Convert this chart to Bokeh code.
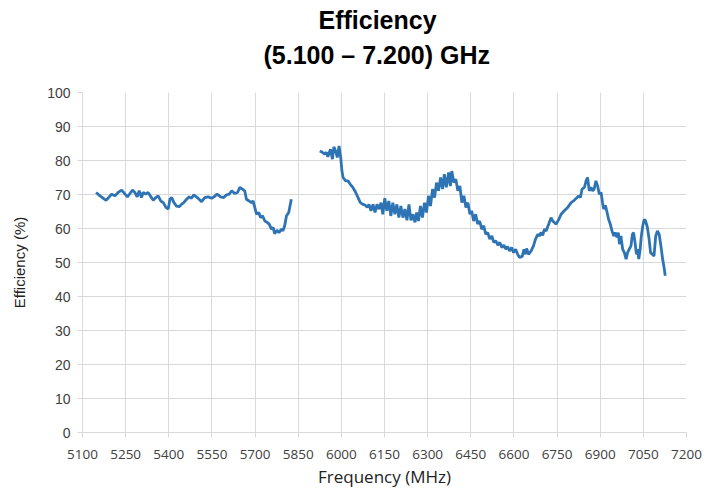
import math
from bokeh.plotting import figure
from bokeh.models import Title, Range1d, FixedTicker
from bokeh.embed import file_html
from bokeh.resources import INLINE

NAN = float("nan")

# Frequency (MHz) and efficiency (%)
freq_band1 = [5147, 5161, 5182, 5193, 5201, 5213, 5224, 5236, 5248, 5256, 5265, 5274, 5282, 5290,
              5297, 5305, 5311, 5320, 5328, 5338, 5346, 5355, 5363, 5372, 5381, 5390, 5398, 5404,
              5410, 5418, 5427, 5436, 5444, 5452, 5462, 5471, 5479, 5487, 5491, 5502, 5514, 5525,
              5537, 5549, 5557, 5568, 5580, 5591, 5601, 5610, 5619, 5629, 5639, 5647, 5656, 5664,
              5670, 5679, 5687, 5693, 5699, 5705, 5713, 5719, 5726, 5734, 5742, 5749, 5757, 5763,
              5768, 5776, 5783, 5792, 5797, 5803, 5809, 5817, 5826]
eff_band1 = [70.6, 69.6, 68.3, 69.3, 70.1, 69.6, 70.6, 71.3, 70.1, 69.3, 70.3, 71.3, 70.6, 69.3,
             71.1, 69.1, 70.6, 70.1, 70.6, 69.3, 68.3, 69.1, 69.6, 68.1, 67.6, 66.2, 65.7, 68.6,
             69.1, 67.6, 66.6, 66.4, 67.1, 67.6, 68.6, 69.3, 68.9, 69.9, 69.6, 68.9, 67.9, 69.1,
             69.3, 68.9, 69.3, 70.1, 69.3, 69.1, 69.9, 70.1, 71.1, 70.3, 70.6, 72.1, 71.6, 71.1,
             68.6, 68.1, 67.6, 68.1, 66.2, 64.2, 64.7, 63.2, 63.7, 62.2, 61.8, 61.3, 59.8, 60.3,
             58.5, 59.5, 58.8, 59.8, 59.3, 60.8, 63.7, 64.7, 68.6]

freq_band2 = [5925, 5934, 5942, 5948, 5953, 5962, 5969, 5974, 5980, 5986, 5992, 5998, 6002, 6006,
              6015, 6023, 6031, 6040, 6050, 6058, 6066, 6075, 6083, 6090, 6096, 6103, 6110, 6117,
              6124, 6131, 6138, 6144, 6151, 6158, 6165, 6172, 6179, 6186, 6193, 6200, 6207, 6214,
              6221, 6228, 6235, 6242, 6249, 6256, 6262, 6268, 6275, 6282, 6289, 6296, 6303, 6310,
              6317, 6324, 6331, 6338, 6345, 6352, 6358, 6365, 6373, 6379, 6384, 6391, 6398, 6405,
              6412, 6419, 6426, 6433, 6440, 6447, 6453, 6460, 6467, 6474, 6481, 6488, 6495, 6502,
              6509, 6516, 6523, 6530, 6537, 6544, 6551, 6558, 6565, 6572, 6578, 6585, 6592, 6599,
              6606, 6613, 6619, 6629, 6635, 6640, 6644, 6651, 6660, 6668, 6675, 6683, 6689, 6694,
              6700, 6706, 6712, 6721, 6729, 6735, 6747, 6756, 6764, 6775, 6787, 6799, 6807, 6816,
              6825, 6831, 6837, 6845, 6851, 6856, 6862, 6868, 6874, 6879, 6885, 6891, 6897, 6903,
              6908, 6912, 6918, 6924, 6929, 6935, 6941, 6947, 6952, 6958, 6963, 6967, 6972, 6978,
              6984, 6990, 6995, 7001, 7007, 7012, 7016, 7021, 7026, 7030, 7034, 7039, 7043, 7048,
              7053, 7058, 7064, 7070, 7075, 7081, 7087, 7093, 7099, 7105, 7111, 7117, 7123, 7126]
eff_band2 = [82.8, 82.4, 81.9, 82.4, 81.1, 83.3, 80.4, 84.0, 82.8, 80.9, 84.3, 80.7, 76.9, 75.0,
             74.0, 74.0, 73.0, 72.1, 70.6, 69.1, 67.6, 67.1, 66.9, 66.2, 67.1, 65.2, 67.1, 64.7,
             67.1, 65.7, 67.6, 64.2, 68.9, 65.2, 68.1, 63.7, 67.6, 64.2, 67.1, 63.2, 66.6, 63.2,
             65.7, 62.4, 67.1, 62.4, 64.2, 61.8, 64.7, 62.2, 66.6, 63.2, 67.6, 64.7, 69.6, 66.6,
             71.6, 69.1, 73.5, 71.1, 75.0, 71.6, 76.0, 72.1, 76.5, 72.5, 76.9, 73.5, 74.5, 71.1,
             72.5, 67.6, 69.6, 66.2, 67.6, 64.2, 65.2, 62.2, 64.2, 61.3, 62.2, 59.8, 60.8, 58.3,
             58.8, 56.9, 57.8, 55.9, 56.4, 55.1, 55.9, 54.4, 55.1, 53.9, 54.7, 53.4, 54.4, 52.9,
             53.9, 52.4, 51.5, 51.8, 53.9, 52.4, 54.1, 52.4, 53.4, 54.9, 56.9, 58.3, 57.8, 58.8,
             58.0, 59.8, 59.3, 61.3, 63.2, 62.2, 61.3, 62.7, 64.2, 65.2, 66.2, 67.6, 68.1, 68.8,
             69.6, 69.1, 71.6, 72.1, 74.0, 75.0, 71.1, 72.1, 71.1, 71.6, 74.0, 72.5, 70.1, 70.6,
             67.6, 65.7, 66.8, 64.7, 62.7, 61.3, 59.3, 57.8, 58.8, 57.4, 58.8, 55.4, 57.8, 53.9,
             52.9, 51.0, 52.9, 53.9, 54.9, 58.3, 58.8, 55.9, 52.4, 53.9, 51.0, 53.9, 57.8, 60.8,
             62.7, 62.2, 60.3, 56.9, 52.9, 52.4, 51.9, 57.8, 59.3, 58.3, 54.9, 51.0, 48.0, 46.1]

x_ticks = list(range(5100, 7201, 150))
y_ticks = list(range(0, 101, 10))
title_line1 = "Efficiency"
title_line2 = "(5.100 – 7.200) GHz"

freq = freq_band1 + [NAN] + freq_band2
eff = eff_band1 + [NAN] + eff_band2

GRID = "#d9d9d9"
TXT = "#404040"

p = figure(frame_width=604, frame_height=340, output_backend="svg", toolbar_location=None,
           x_range=Range1d(5100, 7200), y_range=Range1d(0, 100),
           min_border_left=82, min_border_right=20, min_border_top=92, min_border_bottom=40,
           title=None)

# spacer between frame and the title lines
p.add_layout(Title(text=" ", text_font_size="1px", standoff=19), "above")
p.add_layout(Title(text=title_line2, align="left", offset=181, text_font="Liberation Sans",
                   text_font_size="25px", text_font_style="bold", text_color="#000000",
                   standoff=4), "above")
p.add_layout(Title(text=title_line1, align="left", offset=236, text_font="Liberation Sans",
                   text_font_size="25px", text_font_style="bold", text_color="#000000",
                   standoff=6), "above")

p.line(freq, eff, line_color="#2e74b5", line_width=2.8)

p.outline_line_color = None
p.xaxis.ticker = FixedTicker(ticks=x_ticks)
p.yaxis.ticker = FixedTicker(ticks=y_ticks)
p.xgrid.ticker = FixedTicker(ticks=x_ticks)
p.ygrid.ticker = FixedTicker(ticks=y_ticks)
p.grid.grid_line_color = GRID
p.grid.grid_line_width = 1

for ax in (p.xaxis, p.yaxis):
    ax.axis_line_color = GRID
    ax.major_tick_line_color = GRID
    ax.major_tick_in = 0
    ax.major_tick_out = 5
    ax.minor_tick_line_color = None
    ax.major_label_text_color = TXT

p.xaxis.major_label_text_font = "Open Sans"
p.xaxis.major_label_text_font_size = "13.5px"
p.xaxis.major_label_standoff = 12
p.xaxis.axis_label = "Frequency (MHz)"
p.xaxis.axis_label_text_font = "Open Sans"
p.xaxis.axis_label_text_font_size = "17px"
p.xaxis.axis_label_text_font_style = "normal"
p.xaxis.axis_label_text_color = "#222222"
p.xaxis.axis_label_standoff = 3

p.yaxis.major_label_text_font = "Liberation Sans"
p.yaxis.major_label_text_font_size = "14px"
p.yaxis.major_label_standoff = 7
p.yaxis.axis_label = "Efficiency (%)"
p.yaxis.axis_label_text_font = "Liberation Sans"
p.yaxis.axis_label_text_font_size = "15px"
p.yaxis.axis_label_text_font_style = "normal"
p.yaxis.axis_label_text_color = "#222222"
p.yaxis.axis_label_standoff = 16

open("out.html", "w").write(file_html(p, INLINE))
